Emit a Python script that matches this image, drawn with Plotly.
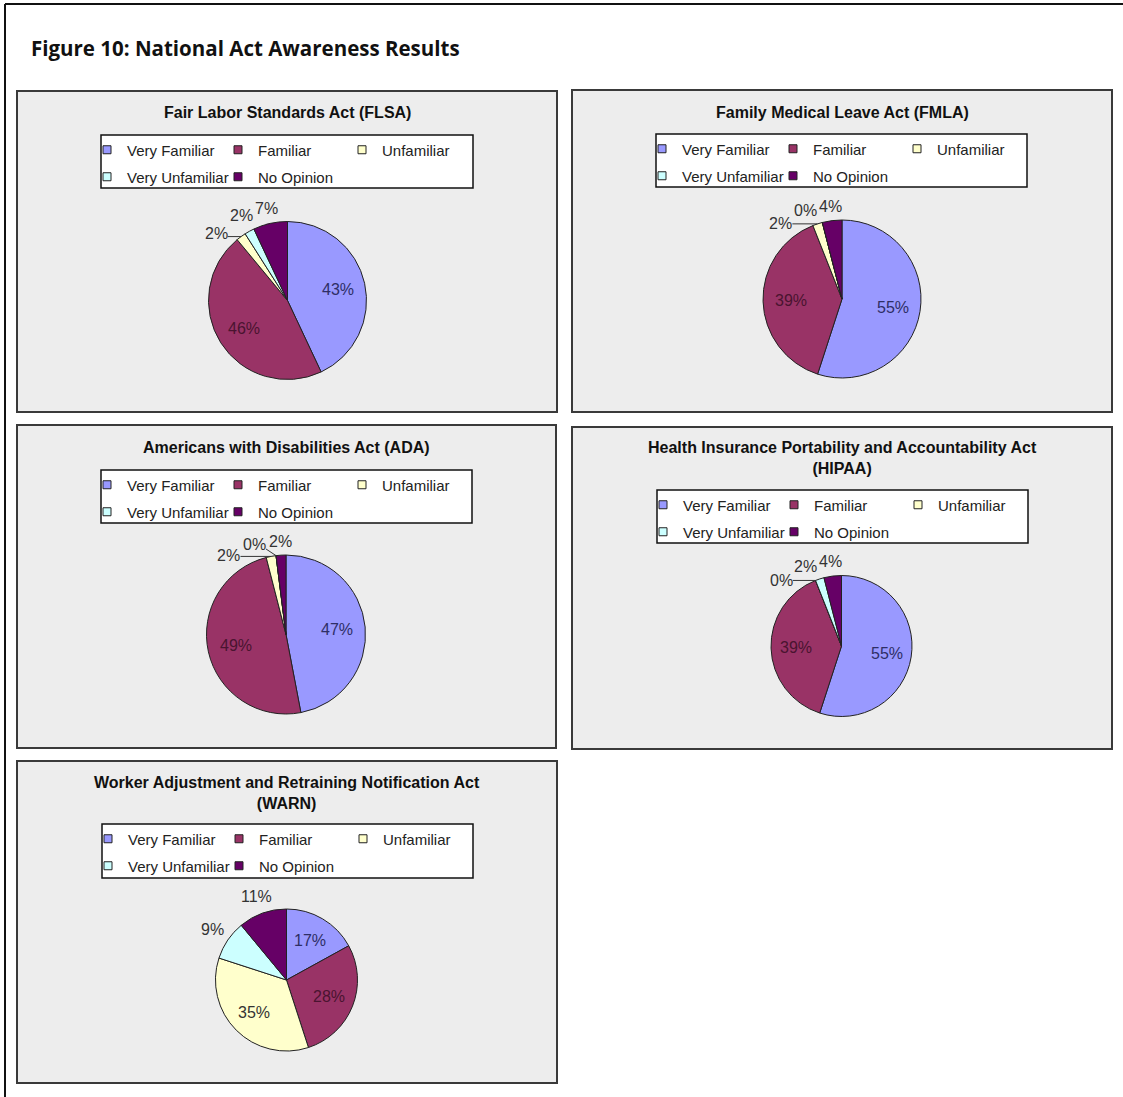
import math
import plotly.graph_objects as go

W, H = 1123, 1097

# ---------------- data ----------------
categories = ["Very Familiar", "Familiar", "Unfamiliar", "Very Unfamiliar", "No Opinion"]
slice_colors = ["#9999FF", "#993366", "#FFFFCC", "#CCFFFF", "#660066"]

chart_titles = [
    "Fair Labor Standards Act (FLSA)",
    "Family Medical Leave Act (FMLA)",
    "Americans with Disabilities Act (ADA)",
    "Health Insurance Portability and Accountability Act<br>(HIPAA)",
    "Worker Adjustment and Retraining Notification Act<br>(WARN)",
]
flsa_pct = [43, 46, 2, 2, 7]
fmla_pct = [55, 39, 2, 0, 4]
ada_pct = [47, 49, 2, 0, 2]
hipaa_pct = [55, 39, 0, 2, 4]
warn_pct = [17, 28, 35, 9, 11]
series = [flsa_pct, fmla_pct, ada_pct, hipaa_pct, warn_pct]

figure_title = "Figure 10: National Act Awareness Results"

# ---------------- layout (pixel geometry) ----------------
panels = [
    dict(rect=(17, 91, 557, 412), ty=113, box=(101, 135, 473, 188), pie=(287.5, 300.5, 79)),
    dict(rect=(572, 90, 1112, 412), ty=113, box=(656, 134, 1027, 187), pie=(842, 299, 79)),
    dict(rect=(17, 425, 556, 748), ty=447, box=(101, 470, 472, 523), pie=(286, 634.5, 79.5)),
    dict(rect=(572, 427, 1112, 749), ty=458, box=(657, 490, 1028, 543), pie=(841.5, 646, 70.5)),
    dict(rect=(17, 761, 557, 1083), ty=793, box=(102, 824, 473, 878), pie=(286.5, 980, 71)),
]


def px(x):
    return x / W


def py(y):
    return 1 - y / H


FONT = "Liberation Sans, Arial, sans-serif"
LABEL_SIZE = 16
label_colors = ["#2e2e66", "#4a1430", "#333333", "#333333", "#333333"]
INSIDE_MIN = 15     # slices above this share get their label inside
INSIDE_FRAC = 0.65  # radial position of inside labels
GAP = 4


def text_width(s, size=LABEL_SIZE):
    return sum(0.889 if ch == "%" else 0.556 for ch in s) * size


def boxes_overlap(a, b, pad=1.5):
    return not (a[2] + pad <= b[0] or b[2] + pad <= a[0] or a[3] + pad <= b[1] or b[3] + pad <= a[1])


def pie_labels(vals, cx, cy, r):
    """Excel-like data label placement derived from the slice angles."""
    total = float(sum(vals))
    cum = 0.0
    inside, outside = [], []
    for i, v in enumerate(vals):
        mid = (cum + v / 2.0) / total * 2 * math.pi
        cum += v
        if v > INSIDE_MIN:
            inside.append((i, mid))
        else:
            outside.append((i, mid))
    res = []
    for i, th in inside:
        res.append(dict(i=i, x=cx + math.sin(th) * r * INSIDE_FRAC, y=cy - math.cos(th) * r * INSIDE_FRAC,
                        leader=None))
    placed = []
    outside.sort(key=lambda t: -t[1])
    for i, th in outside:
        txt = f"{vals[i]}%"
        hw, hh = text_width(txt) / 2, 9
        a = th
        for _ in range(120):
            ux, uy = math.sin(a), -math.cos(a)
            d = r + GAP + abs(ux) * hw + abs(uy) * hh
            lx, ly = cx + ux * d, cy + uy * d
            box = (lx - hw, ly - hh, lx + hw, ly + hh)
            if not any(boxes_overlap(box, b) for b in placed):
                break
            a -= math.radians(1)
        placed.append(box)
        leader = None
        if th - a > math.radians(10):
            sx, sy = cx + math.sin(th) * r, cy - math.cos(th) * r
            ex = min(max(sx, box[0]), box[2])
            ey = min(max(sy, box[1] + 4), box[3] - 4)
            leader = (sx, sy, ex, ey)
        res.append(dict(i=i, x=lx, y=ly, leader=leader))
    return res


fig = go.Figure()
shapes = []
annotations = []
legends = {}

# outer frame (top and left lines)
shapes.append(dict(type="line", xref="paper", yref="paper", x0=px(5), x1=px(W), y0=py(4), y1=py(4),
                   line=dict(color="#111111", width=2), layer="below"))
shapes.append(dict(type="line", xref="paper", yref="paper", x0=px(5), x1=px(5), y0=py(4), y1=py(H),
                   line=dict(color="#111111", width=2), layer="below"))

annotations.append(dict(text="<b>" + figure_title + "</b>", xref="paper", yref="paper",
                        x=px(29), y=py(48), xanchor="left", yanchor="middle", showarrow=False,
                        font=dict(family="Open Sans, Lato, sans-serif", size=20.5, color="#111111")))

legend_idx = 0
for k, (p, vals, title) in enumerate(zip(panels, series, chart_titles)):
    x0, y0, x1, y1 = p["rect"]
    shapes.append(dict(type="rect", xref="paper", yref="paper", x0=px(x0), x1=px(x1), y0=py(y1), y1=py(y0),
                       fillcolor="#EDEDED", line=dict(color="#3a3a3a", width=2), layer="below"))
    bx0, by0, bx1, by1 = p["box"]
    shapes.append(dict(type="rect", xref="paper", yref="paper", x0=px(bx0), x1=px(bx1), y0=py(by1), y1=py(by0),
                       fillcolor="#FFFFFF", line=dict(color="#111111", width=1.5), layer="below"))
    annotations.append(dict(text="<b>" + title + "</b>", xref="paper", yref="paper",
                            x=px((x0 + x1) / 2), y=py(p["ty"]), xanchor="center", yanchor="middle",
                            showarrow=False, font=dict(family=FONT, size=16, color="#111111")))

    cx, cy, r = p["pie"]
    fig.add_trace(go.Pie(
        labels=categories, values=vals, sort=False, direction="clockwise", rotation=0,
        marker=dict(colors=slice_colors, line=dict(color="#222222", width=1)),
        textinfo="none",
        domain=dict(x=[px(cx - r), px(cx + r)], y=[py(cy + r), py(cy - r)]),
        showlegend=False, hoverinfo="label+percent", automargin=False,
    ))

    for lab in pie_labels(vals, cx, cy, r):
        annotations.append(dict(text=f"{vals[lab['i']]}%", xref="paper", yref="paper",
                                x=px(lab["x"]), y=py(lab["y"]), xanchor="center", yanchor="middle",
                                showarrow=False,
                                font=dict(family=FONT, size=LABEL_SIZE, color=label_colors[lab["i"]])))
        if lab["leader"]:
            sx, sy, ex, ey = lab["leader"]
            shapes.append(dict(type="line", xref="paper", yref="paper", x0=px(sx), y0=py(sy),
                               x1=px(ex), y1=py(ey), line=dict(color="#333333", width=1), layer="above"))

    # two legend rows per chart
    rows = [[0, 1, 2], [3, 4]]
    widths = [86, 79, 80]
    for ri, row in enumerate(rows):
        legend_idx += 1
        lid = "legend" if legend_idx == 1 else f"legend{legend_idx}"
        legends[lid] = dict(orientation="h", x=px(bx0 - 14), y=py(by0 + 15 + 27 * ri),
                            xanchor="left", yanchor="middle", bgcolor="rgba(0,0,0,0)", borderwidth=0,
                            font=dict(family=FONT, size=15, color="#222222"), traceorder="normal")
        for ci, j in enumerate(row):
            fig.add_trace(go.Scatter(
                x=[None], y=[None], mode="markers", name=categories[j],
                marker=dict(symbol="square", size=8, color=slice_colors[j],
                            line=dict(color="#222222", width=1)),
                legend=lid, legendwidth=widths[ci], showlegend=True, hoverinfo="skip",
            ))

fig.update_layout(
    width=W, height=H, margin=dict(l=0, r=0, t=0, b=0),
    paper_bgcolor="#FFFFFF", plot_bgcolor="rgba(0,0,0,0)",
    xaxis=dict(visible=False), yaxis=dict(visible=False),
    shapes=shapes, annotations=annotations, showlegend=True, hovermode=False,
    **legends,
)

fig.write_html("out.html", config={"displayModeBar": False},
               post_script="document.body.style.margin='0px';")
